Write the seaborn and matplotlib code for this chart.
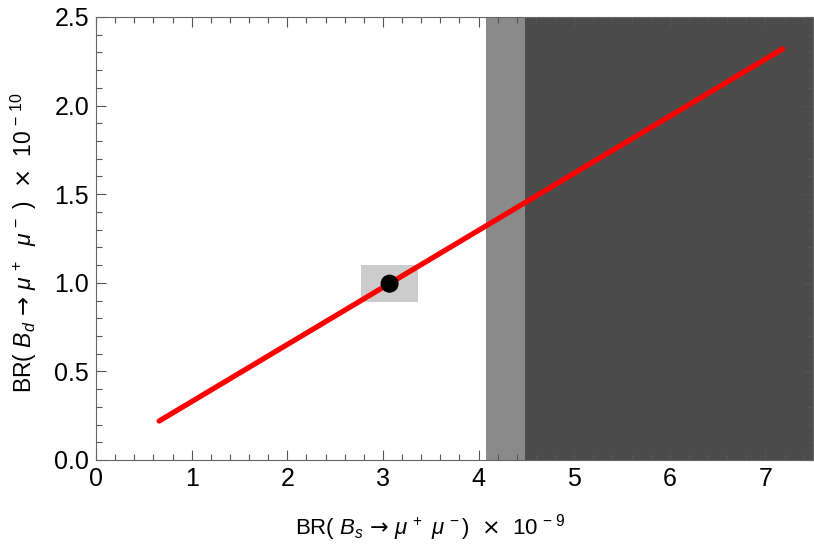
import matplotlib
matplotlib.use("Agg")
import matplotlib.pyplot as plt
import seaborn as sns
import pandas as pd
from matplotlib.ticker import MultipleLocator
from matplotlib.patches import Rectangle

# data
line_bs = [0.66, 7.18]
line_bd = [0.22, 2.32]
point_bs = [3.07]
point_bd = [0.995]
box_bs = [2.77, 3.37]
box_bd = [0.89, 1.10]
band_light = [4.08, 4.49]
band_dark = [4.49, 7.5]
xticks = [0, 1, 2, 3, 4, 5, 6, 7]
yticks = [0.0, 0.5, 1.0, 1.5, 2.0, 2.5]

sns.set_theme(style="ticks")
plt.rcParams['font.family'] = ['Liberation Sans', 'DejaVu Sans']
plt.rcParams['text.color'] = 'black'
plt.rcParams['axes.labelcolor'] = 'black'
plt.rcParams['mathtext.fontset'] = 'custom'
plt.rcParams['mathtext.rm'] = 'Liberation Sans'
plt.rcParams['mathtext.it'] = 'Liberation Sans:italic'
plt.rcParams['mathtext.bf'] = 'Liberation Sans:bold'
plt.rcParams['mathtext.sf'] = 'DejaVu Sans'

fig = plt.figure(figsize=(8.14, 5.48), dpi=100)
ax = fig.add_axes([0.118, 0.1606, 0.881, 0.8084])

ax.axvspan(band_light[0], band_light[1], color='#8a8a8a', lw=0, zorder=0)
ax.axvspan(band_dark[0], band_dark[1], color='#4b4b4b', lw=0, zorder=0)
ax.add_patch(Rectangle((box_bs[0], box_bd[0]), box_bs[1] - box_bs[0], box_bd[1] - box_bd[0],
                       facecolor='#cccccc', edgecolor='none', zorder=1))

df_line = pd.DataFrame({'bs': line_bs, 'bd': line_bd})
sns.lineplot(data=df_line, x='bs', y='bd', color='#ff0000', lw=3.8, ax=ax, zorder=3)
df_pt = pd.DataFrame({'bs': point_bs, 'bd': point_bd})
sns.scatterplot(data=df_pt, x='bs', y='bd', color='black', s=170, edgecolor='none', ax=ax, zorder=4)

ax.set_xlim(0, 7.5)
ax.set_ylim(0, 2.5)
ax.set_xticks(xticks)
ax.set_xticklabels([str(t) for t in xticks])
ax.set_yticks(yticks)
ax.set_yticklabels([f"{t:.1f}" for t in yticks])
ax.xaxis.set_minor_locator(MultipleLocator(0.2))
ax.yaxis.set_minor_locator(MultipleLocator(0.1))
ax.tick_params(which='both', direction='in', top=True, right=True, color='#555555', width=0.8,
               labelsize=18, labelcolor='black')
ax.tick_params(which='major', length=7, pad=5)
ax.tick_params(which='minor', length=4)
for s in ax.spines.values():
    s.set_color('#666666')
    s.set_linewidth(0.8)

ax.set_xlabel(r'BR( $B_s\,\mathsf{\rightarrow}\,\mu^{\,+}\ \mu^{\,-}$)  $\mathsf{\times}$  10$^{\,-\,9}$', fontsize=16)
ax.set_ylabel(r'BR( $B_d\,\mathsf{\rightarrow}\,\mu^{\,+}\ \ \mu^{\,-}$ )  $\mathsf{\times}$  10$^{\,-\,10}$', fontsize=16.5)
ax.xaxis.set_label_coords(0.466, -0.118)
ax.yaxis.set_label_coords(-0.079, 0.49)

fig.savefig('out.png', dpi=100)
